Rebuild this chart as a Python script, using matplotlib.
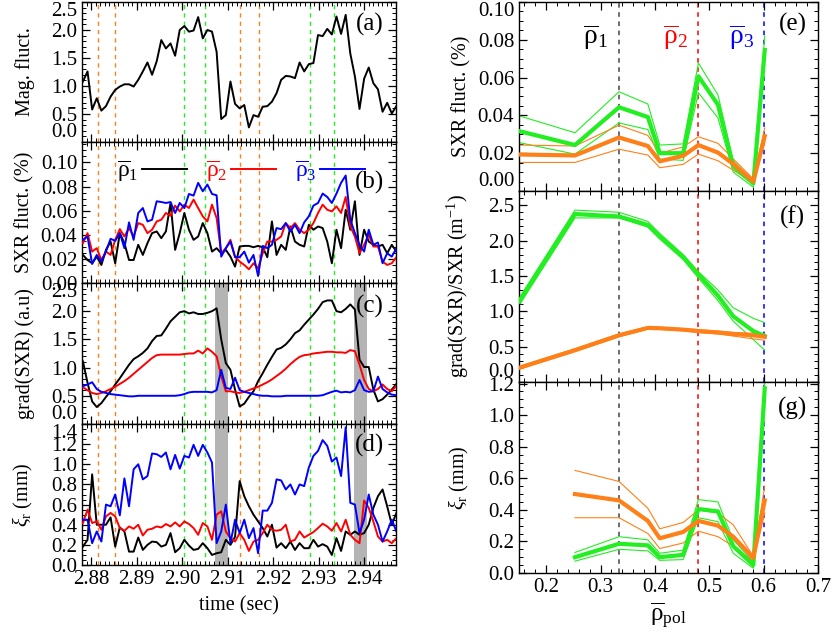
import numpy as np
import matplotlib
matplotlib.use("Agg")
import matplotlib.pyplot as plt
from matplotlib.ticker import MultipleLocator, FormatStrFormatter

plt.rcParams['font.family'] = ['Liberation Serif', 'DejaVu Serif']
plt.rcParams['mathtext.fontset'] = 'custom'
plt.rcParams['mathtext.rm'] = 'Liberation Serif'
plt.rcParams['mathtext.it'] = 'Liberation Serif:italic'

# ---- time traces (1 ms sampling) ----
t0, dt = 2.8782, 0.001013
time = t0 + dt * np.arange(69)

mag_fluct = [1.08, 1.26, 0.58, 0.78, 0.56, 0.64, 0.81, 0.93, 0.99, 1.03,
             1.03, 0.99, 1.11, 1.26, 1.42, 1.20, 1.44, 1.82, 1.67, 1.76,
             1.54, 2.00, 2.07, 1.97, 1.99, 2.23, 1.85, 2.00, 1.97, 1.61,
             0.41, 0.48, 1.08, 0.68, 0.60, 0.66, 0.26, 0.48, 0.45, 0.63,
             0.64, 0.72, 0.87, 1.11, 1.18, 1.17, 1.14, 1.42, 1.26, 1.39,
             1.41, 1.91, 1.89, 2.02, 1.92, 2.24, 1.93, 2.27, 1.58, 1.17,
             0.59, 1.13, 1.33, 1.05, 0.94, 0.54, 0.70, 0.51, 0.64]

sxr_rho1 = [0.0233, 0.0191, 0.0164, 0.0219, 0.0150, 0.0275, 0.0344, 0.0164, 0.0414, 0.0331,
            0.0191, 0.0191, 0.0317, 0.0233, 0.0331, 0.0414, 0.0428, 0.0372, 0.0428, 0.0664,
            0.0275, 0.0414, 0.0581, 0.0442, 0.0358, 0.0386, 0.0497, 0.0414, 0.0261, 0.0289,
            0.0247, 0.0275, 0.0219, 0.0136, 0.0303, 0.0308, 0.0308, 0.0297, 0.0308, 0.0297,
            0.0214, 0.0511, 0.0233, 0.0317, 0.0275, 0.0469, 0.0344, 0.0317, 0.0303, 0.0483,
            0.0442, 0.0469, 0.0456, 0.0344, 0.0164, 0.0442, 0.0289, 0.0608, 0.0442, 0.0678,
            0.0233, 0.0442, 0.0344, 0.0317, 0.0303, 0.0317, 0.0247, 0.0317, 0.0261]
sxr_rho2 = [0.0331, 0.0414, 0.0261, 0.0289, 0.0191, 0.0261, 0.0233, 0.0358, 0.0447, 0.0386,
            0.0456, 0.0386, 0.0497, 0.0483, 0.0414, 0.0442, 0.0511, 0.0525, 0.0581, 0.0558,
            0.0642, 0.0594, 0.0650, 0.0622, 0.0692, 0.0622, 0.0553, 0.0511, 0.0650, 0.0539,
            0.0247, 0.0289, 0.0358, 0.0219, 0.0178, 0.0150, 0.0114, 0.0164, 0.0122, 0.0247,
            0.0344, 0.0344, 0.0358, 0.0386, 0.0497, 0.0456, 0.0497, 0.0442, 0.0414, 0.0442,
            0.0497, 0.0581, 0.0650, 0.0608, 0.0594, 0.0636, 0.0581, 0.0714, 0.0469, 0.0386,
            0.0247, 0.0317, 0.0400, 0.0303, 0.0303, 0.0178, 0.0150, 0.0164, 0.0214]
sxr_rho3 = [0.0358, 0.0386, 0.0158, 0.0233, 0.0178, 0.0261, 0.0367, 0.0350, 0.0414, 0.0289,
            0.0503, 0.0358, 0.0581, 0.0622, 0.0511, 0.0525, 0.0678, 0.0672, 0.0664, 0.0672,
            0.0581, 0.0664, 0.0622, 0.0739, 0.0725, 0.0831, 0.0761, 0.0817, 0.0739, 0.0728,
            0.0219, 0.0289, 0.0344, 0.0214, 0.0214, 0.0261, 0.0169, 0.0233, 0.0058, 0.0308,
            0.0289, 0.0317, 0.0456, 0.0447, 0.0497, 0.0428, 0.0483, 0.0414, 0.0503, 0.0553,
            0.0642, 0.0664, 0.0742, 0.0714, 0.0664, 0.0742, 0.0831, 0.0892, 0.0525, 0.0414,
            0.0317, 0.0261, 0.0442, 0.0317, 0.0336, 0.0164, 0.0247, 0.0219, 0.0289]

grad_rho1 = [1.11, 0.73, 0.40, 0.30, 0.37, 0.48, 0.58, 0.70, 0.81, 0.93,
             1.05, 1.15, 1.20, 1.26, 1.34, 1.47, 1.56, 1.57, 1.69, 1.82,
             1.90, 1.98, 2.00, 1.96, 1.98, 1.95, 1.95, 1.97, 2.00, 2.05,
             1.50, 1.08, 0.96, 0.61, 0.31, 0.36, 0.48, 0.58, 0.76, 0.90,
             1.05, 1.19, 1.32, 1.35, 1.41, 1.50, 1.61, 1.66, 1.76, 1.85,
             1.94, 2.04, 2.16, 2.19, 2.19, 2.00, 1.98, 2.04, 2.12, 2.03,
             1.14, 1.01, 1.01, 0.61, 0.40, 0.44, 0.52, 0.61, 0.71]
grad_rho2 = [0.65, 0.60, 0.55, 0.53, 0.55, 0.58, 0.62, 0.66, 0.71, 0.76,
             0.82, 0.89, 0.96, 1.03, 1.10, 1.17, 1.22, 1.23, 1.23, 1.23,
             1.23, 1.23, 1.24, 1.25, 1.25, 1.30, 1.25, 1.34, 1.28, 1.20,
             0.85, 0.58, 0.58, 0.56, 0.55, 0.57, 0.60, 0.63, 0.66, 0.70,
             0.74, 0.79, 0.85, 0.91, 0.98, 1.06, 1.13, 1.19, 1.22, 1.23,
             1.25, 1.26, 1.27, 1.28, 1.28, 1.27, 1.27, 1.26, 1.31, 1.29,
             1.05, 0.78, 0.62, 0.58, 0.62, 0.70, 0.62, 0.58, 0.68]
grad_rho3 = [0.67, 0.70, 0.74, 0.62, 0.57, 0.55, 0.53, 0.52, 0.51, 0.50,
             0.49, 0.49, 0.50, 0.50, 0.50, 0.50, 0.50, 0.50, 0.50, 0.50,
             0.50, 0.51, 0.53, 0.56, 0.57, 0.57, 0.57, 0.57, 0.56, 0.60,
             0.96, 0.64, 0.62, 0.82, 0.60, 0.57, 0.55, 0.53, 0.51, 0.50,
             0.50, 0.49, 0.49, 0.49, 0.50, 0.50, 0.50, 0.50, 0.50, 0.50,
             0.50, 0.50, 0.51, 0.54, 0.57, 0.59, 0.56, 0.57, 0.56, 0.60,
             0.78, 0.60, 0.57, 0.58, 0.84, 0.62, 0.56, 0.52, 0.51]

xi_rho1 = [0.183, 0.25, 0.90, 0.40, 0.40, 0.40, 0.473, 0.183, 0.373, 0.333,
           0.133, 0.133, 0.273, 0.15, 0.20, 0.233, 0.227, 0.183, 0.20, 0.317,
           0.127, 0.167, 0.25, 0.193, 0.15, 0.16, 0.217, 0.167, 0.10, 0.117,
           0.127, 0.25, 0.20, 0.28, 0.833, 0.683, 0.583, 0.50, 0.433, 0.367,
           0.283, 0.40, 0.173, 0.217, 0.167, 0.233, 0.15, 0.217, 0.167, 0.167,
           0.25, 0.183, 0.207, 0.183, 0.10, 0.267, 0.14, 0.333, 0.30, 0.333,
           0.30, 0.317, 0.40, 0.567, 0.683, 0.75, 0.583, 0.40, 0.517]
xi_rho2 = [0.417, 0.55, 0.417, 0.433, 0.35, 0.483, 0.517, 0.483, 0.367, 0.34,
           0.383, 0.36, 0.40, 0.293, 0.35, 0.36, 0.383, 0.373, 0.407, 0.383,
           0.423, 0.383, 0.433, 0.407, 0.367, 0.30, 0.417, 0.383, 0.25, 0.50,
           0.533, 0.333, 0.267, 0.233, 0.317, 0.25, 0.14, 0.233, 0.25, 0.317,
           0.40, 0.35, 0.34, 0.35, 0.40, 0.233, 0.25, 0.333, 0.273, 0.30,
           0.327, 0.367, 0.41, 0.383, 0.34, 0.417, 0.333, 0.45, 0.30, 0.25,
           0.217, 0.64, 0.567, 0.433, 0.283, 0.233, 0.25, 0.217, 0.267]
xi_rho3 = [0.45, 0.45, 0.217, 0.333, 0.233, 0.60, 0.583, 0.70, 0.493, 0.86,
           0.583, 0.95, 1.0, 0.85, 0.883, 1.107, 1.10, 1.073, 1.117, 0.95,
           1.093, 0.957, 1.083, 1.067, 1.193, 1.083, 1.193, 1.117, 1.017, 0.217,
           0.333, 0.60, 0.217, 0.45, 0.317, 0.45, 0.267, 0.367, 0.117, 0.54,
           0.54, 0.617, 0.85, 0.84, 0.75, 0.80, 0.70, 0.80, 0.783, 0.967,
           1.083, 1.133, 1.24, 1.183, 1.027, 1.067, 0.883, 1.367, 0.617, 0.60,
           0.317, 0.45, 0.70, 0.50, 0.40, 0.233, 0.333, 0.45, 0.333]

orange_times = [2.8815, 2.8853, 2.9128, 2.9168]
green_times = [2.9004, 2.9051, 2.9282, 2.9334]
crash_bands = [(2.9072, 2.9100), (2.9378, 2.9406)]

# ---- radial profiles ----
rho = [0.15, 0.253, 0.334, 0.387, 0.409, 0.452, 0.480, 0.516, 0.544, 0.581, 0.602]
rho_marks = [0.334, 0.480, 0.601]

sxr_green = [0.0317, 0.0243, 0.0443, 0.0391, 0.0200, 0.0200, 0.0607, 0.0456, 0.0130, 0.0040, 0.0746]
sxr_green_hi = [0.0398, 0.0308, 0.0525, 0.0460, 0.0243, 0.0249, 0.0677, 0.0508, 0.0160, 0.0050, 0.0820]
sxr_green_lo = [0.0256, 0.0195, 0.0360, 0.0325, 0.0169, 0.0162, 0.0520, 0.0386, 0.0100, 0.0020, 0.0670]
sxr_orange = [0.0193, 0.0188, 0.0283, 0.0238, 0.0157, 0.0186, 0.0243, 0.0203, 0.0143, 0.0049, 0.0290]
sxr_orange_hi = [0.0243, 0.0238, 0.0348, 0.0294, 0.0200, 0.0233, 0.0287, 0.0252, 0.0170, 0.0064, 0.0334]
sxr_orange_lo = [0.0151, 0.0151, 0.0221, 0.0190, 0.0123, 0.0141, 0.0195, 0.0160, 0.0110, 0.0043, 0.0256]

lgrad_green = [1.14, 2.375, 2.34, 2.22, 2.06, 1.77, 1.52, 1.22, 0.93, 0.72, 0.65]
lgrad_green_hi = [1.18, 2.43, 2.40, 2.27, 2.10, 1.80, 1.56, 1.30, 1.05, 0.90, 0.84]
lgrad_green_lo = [1.08, 2.32, 2.32, 2.19, 2.02, 1.73, 1.47, 1.15, 0.86, 0.60, 0.45]
lgrad_orange = [0.20, 0.45, 0.66, 0.765, 0.76, 0.74, 0.72, 0.70, 0.68, 0.66, 0.64]
lgrad_orange_hi = [0.22, 0.47, 0.68, 0.78, 0.775, 0.755, 0.74, 0.72, 0.70, 0.69, 0.68]
lgrad_orange_lo = [0.18, 0.43, 0.64, 0.75, 0.745, 0.725, 0.70, 0.68, 0.65, 0.61, 0.59]

nan = np.nan
xir_green = [nan, 0.10, 0.185, 0.175, 0.10, 0.115, 0.405, 0.39, 0.17, 0.05, 1.17]
xir_green_hi = [nan, 0.13, 0.23, 0.21, 0.125, 0.145, 0.465, 0.45, 0.21, 0.07, 1.22]
xir_green_lo = [nan, 0.075, 0.15, 0.14, 0.08, 0.085, 0.35, 0.325, 0.125, 0.03, 1.05]
xir_orange = [nan, 0.50, 0.46, 0.33, 0.22, 0.26, 0.33, 0.30, 0.23, 0.095, 0.46]
xir_orange_hi = [nan, 0.65, 0.58, 0.41, 0.28, 0.32, 0.40, 0.38, 0.305, 0.105, 0.55]
xir_orange_lo = [nan, 0.35, 0.35, 0.25, 0.155, 0.19, 0.265, 0.23, 0.17, 0.075, 0.38]

ORANGE = '#ff8018'
GREEN = '#22ee22'
FS = 15      # tick labels
LFS = 14.5   # axis labels

fig = plt.figure(figsize=(8.36, 6.37), dpi=100)

left, width = 0.0981, 0.3756
ax_a = fig.add_axes([left, 0.7771, width, 0.2198])
ax_b = fig.add_axes([left, 0.5557, width, 0.2214])
ax_c = fig.add_axes([left, 0.3344, width, 0.2214])
ax_d = fig.add_axes([left, 0.1130, width, 0.2214])

rleft, rwidth = 0.6208, 0.3577
ax_e = fig.add_axes([rleft, 0.7002, rwidth, 0.2967])
ax_f = fig.add_axes([rleft, 0.4003, rwidth, 0.2998])
ax_g = fig.add_axes([rleft, 0.1005, rwidth, 0.2998])


def style(ax, ymajor, yminor, xmajor, xminor):
    ax.yaxis.set_major_locator(MultipleLocator(ymajor))
    ax.yaxis.set_minor_locator(MultipleLocator(yminor))
    ax.xaxis.set_major_locator(MultipleLocator(xmajor))
    ax.xaxis.set_minor_locator(MultipleLocator(xminor))
    ax.tick_params(which='both', direction='in', top=True, right=True, labelsize=FS)
    ax.tick_params(which='major', length=6, width=0.9)
    ax.tick_params(which='minor', length=3, width=0.7)
    for s in ax.spines.values():
        s.set_linewidth(1.0)


# left column
for ax in [ax_a, ax_b, ax_c, ax_d]:
    for tv in orange_times:
        ax.axvline(tv, color=ORANGE, lw=1.0, ls=(0, (3, 3)), zorder=1)
    for tv in green_times:
        ax.axvline(tv, color=GREEN, lw=1.0, ls=(0, (3, 3)), zorder=1)
    ax.set_xlim(2.878, 2.947)
    style(ax, 0.5, 0.1, 0.01, 0.001)

for ax in [ax_c, ax_d]:
    for a, b in crash_bands:
        ax.axvspan(a, b, color='#b4b4b4', lw=0, zorder=0.5)

ax_a.plot(time, mag_fluct, color='black', lw=1.4, zorder=3)
ax_a.set_ylim(0, 2.5)
ax_a.yaxis.set_major_formatter(FormatStrFormatter('%.1f'))
ax_a.set_ylabel('Mag. fluct.', fontsize=LFS)

lab1 = r'$\overline{\mathrm{\rho}}_1$'
lab2 = r'$\overline{\mathrm{\rho}}_2$'
lab3 = r'$\overline{\mathrm{\rho}}_3$'
ax_b.plot(time, sxr_rho1, color='black', lw=1.4, zorder=3, label=lab1)
ax_b.plot(time, sxr_rho2, color='red', lw=1.4, zorder=3, label=lab2)
ax_b.plot(time, sxr_rho3, color='blue', lw=1.4, zorder=3, label=lab3)
ax_b.set_ylim(0, 0.117)
style(ax_b, 0.02, 0.005, 0.01, 0.001)
ax_b.yaxis.set_major_formatter(FormatStrFormatter('%.2f'))
ax_b.set_ylabel('SXR fluct. (%)', fontsize=LFS)
ax_b.legend(loc='upper left', bbox_to_anchor=(0.06, 1.0), ncol=3, frameon=False,
            markerfirst=False, labelcolor='linecolor', fontsize=17, borderpad=0.2,
            handlelength=1.9, handletextpad=0.15, columnspacing=0.8)

ax_c.plot(time, grad_rho1, color='black', lw=1.4, zorder=3)
ax_c.plot(time, grad_rho2, color='red', lw=1.4, zorder=3)
ax_c.plot(time, grad_rho3, color='blue', lw=1.4, zorder=3)
ax_c.set_ylim(0, 2.5)
ax_c.yaxis.set_major_formatter(FormatStrFormatter('%.1f'))
ax_c.set_ylabel('grad(SXR) (a.u)', fontsize=LFS)

ax_d.plot(time, xi_rho1, color='black', lw=1.4, zorder=3)
ax_d.plot(time, xi_rho2, color='red', lw=1.4, zorder=3)
ax_d.plot(time, xi_rho3, color='blue', lw=1.4, zorder=3)
ax_d.set_ylim(0, 1.4)
style(ax_d, 0.2, 0.05, 0.01, 0.001)
ax_d.yaxis.set_major_formatter(FormatStrFormatter('%.1f'))
ax_d.set_ylabel(r'$\xi_{\mathrm{r}}$ (mm)', fontsize=LFS)
ax_d.set_xlabel('time (sec)', fontsize=LFS, labelpad=5)
ax_d.xaxis.set_major_formatter(FormatStrFormatter('%.2f'))

for ax in [ax_a, ax_b, ax_c]:
    ax.tick_params(labelbottom=False)
for ax in [ax_a, ax_b, ax_c, ax_d]:
    ax.yaxis.set_label_coords(-0.15, 0.5)

# right column
for ax in [ax_e, ax_f, ax_g]:
    for xv, c in zip(rho_marks, ['#444444', 'red', 'blue']):
        ax.axvline(xv, color=c, lw=1.1, ls=(0, (3, 3)), zorder=1)
    ax.set_xlim(0.15, 0.7)


def profile(ax, mid, hi, lo, color):
    ax.plot(rho, hi, color=color, lw=0.8, zorder=2)
    ax.plot(rho, lo, color=color, lw=0.8, zorder=2)
    ax.plot(rho, mid, color=color, lw=3.0, zorder=3)


profile(ax_e, sxr_green, sxr_green_hi, sxr_green_lo, GREEN)
profile(ax_e, sxr_orange, sxr_orange_hi, sxr_orange_lo, ORANGE)
ax_e.set_ylim(0, 0.1)
style(ax_e, 0.02, 0.005, 0.1, 0.02)
ax_e.yaxis.set_major_formatter(FormatStrFormatter('%.2f'))
ax_e.set_ylabel('SXR fluct. (%)', fontsize=LFS)
ax_e.text(0.29, 0.0815, lab1, color='black', fontsize=20, ha='center', va='center')
ax_e.text(0.437, 0.0815, lab2, color='red', fontsize=20, ha='center', va='center')
ax_e.text(0.559, 0.0815, lab3, color='blue', fontsize=20, ha='center', va='center')

profile(ax_f, lgrad_green, lgrad_green_hi, lgrad_green_lo, GREEN)
profile(ax_f, lgrad_orange, lgrad_orange_hi, lgrad_orange_lo, ORANGE)
ax_f.set_ylim(0, 2.7)
style(ax_f, 0.5, 0.1, 0.1, 0.02)
ax_f.yaxis.set_major_formatter(FormatStrFormatter('%.1f'))
ax_f.set_ylabel(r'grad(SXR)/SXR (m$^{-1}$)', fontsize=LFS)

profile(ax_g, xir_green, xir_green_hi, xir_green_lo, GREEN)
profile(ax_g, xir_orange, xir_orange_hi, xir_orange_lo, ORANGE)
ax_g.set_ylim(0, 1.21)
style(ax_g, 0.2, 0.05, 0.1, 0.02)
ax_g.yaxis.set_major_formatter(FormatStrFormatter('%.1f'))
ax_g.xaxis.set_major_formatter(FormatStrFormatter('%.1f'))
ax_g.set_ylabel(r'$\xi_{\mathrm{r}}$ (mm)', fontsize=LFS)
ax_g.set_xlabel(r'$\overline{\mathrm{\rho}}_{\mathrm{pol}}$', fontsize=18, labelpad=3)

for ax in [ax_e, ax_f]:
    ax.tick_params(labelbottom=False)
for ax in [ax_e, ax_f, ax_g]:
    ax.yaxis.set_label_coords(-0.16, 0.5)

panel_pos = {ax_a: 0.84, ax_b: 0.71, ax_c: 0.83, ax_d: 0.85,
             ax_e: 0.88, ax_f: 0.86, ax_g: 0.86}
for ax, lab in zip([ax_a, ax_b, ax_c, ax_d, ax_e, ax_f, ax_g],
                   ['(a)', '(b)', '(c)', '(d)', '(e)', '(f)', '(g)']):
    ax.text(0.915, panel_pos[ax], lab, transform=ax.transAxes,
            fontsize=18, ha='center', va='center', zorder=5)

# pull the end tick labels inside their own panel where the panels touch
fig.canvas.draw()
shift_top = [ax_a, ax_c, ax_d, ax_e, ax_g]
shift_bottom = [ax_a, ax_c, ax_e, ax_f]
for ax in [ax_a, ax_b, ax_c, ax_d, ax_e, ax_f, ax_g]:
    lo, hi = ax.get_ylim()
    for tick in ax.yaxis.get_major_ticks():
        if ax in shift_top and abs(tick.get_loc() - hi) < 1e-9:
            tick.label1.set_va('top')
        elif ax in shift_bottom and abs(tick.get_loc() - lo) < 1e-9:
            tick.label1.set_va('bottom')

fig.savefig('out.png', dpi=100)
